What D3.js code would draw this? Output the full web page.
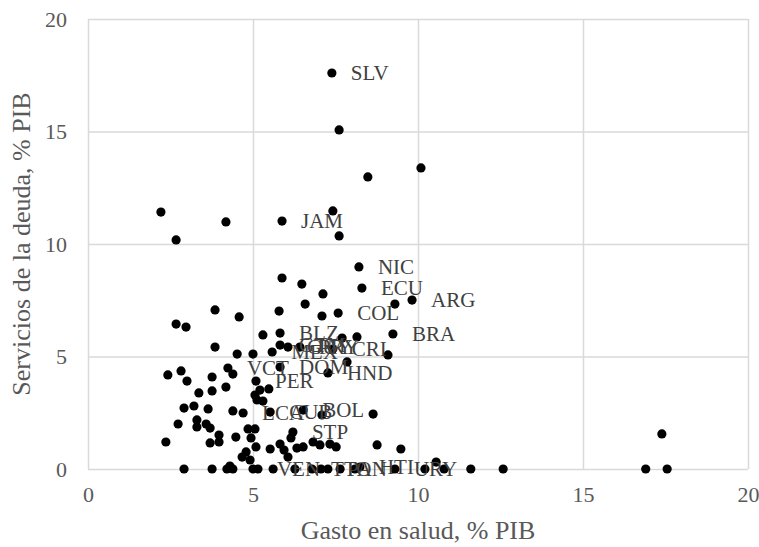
<!DOCTYPE html>
<html>
<head>
<meta charset="utf-8">
<script src="https://cdn.jsdelivr.net/npm/d3@7"></script>
<style>
  html, body { margin: 0; padding: 0; background: #fff; }
  svg { display: block; }
</style>
</head>
<body>
<div id="chart"></div>
<script>
// Data: health expenditure (% GDP) vs debt service (% GDP)
const gastoSalud = [
  7.39, 7.61, 10.09, 8.48, 7.42, 2.21, 4.18, 5.88, 2.67, 7.61,
  5.88, 6.48, 8.21, 7.12, 6.58, 9.30, 9.82, 8.30, 7.58, 7.09,
  5.79, 4.58, 3.85, 2.67, 2.97, 5.30, 5.82, 9.24, 7.70, 8.15,
  9.09, 7.85, 7.27, 7.42, 6.42, 5.58, 5.82, 6.06, 5.82, 3.85,
  4.52, 5.00, 2.42, 2.82, 3.00, 3.76, 4.24, 4.39, 3.36, 3.76,
  4.18, 5.09, 5.21, 5.48, 5.06, 5.12, 5.30, 2.91, 3.21, 3.64,
  4.39, 4.70, 5.52, 6.52, 7.09, 8.64, 2.73, 3.30, 3.30, 3.58,
  3.70, 3.97, 2.36, 3.70, 3.97, 4.48, 4.85, 5.06, 4.94, 5.09,
  4.79, 4.67, 4.91, 5.52, 5.82, 5.94, 6.06, 6.21, 6.15, 6.33,
  6.52, 6.82, 7.03, 7.33, 7.52, 8.76, 9.48, 17.39,
  2.91, 3.76, 4.21, 4.30, 4.39, 5.00, 5.15, 5.61, 6.27, 6.79,
  7.06, 7.27, 7.64, 8.09, 8.24, 9.30, 10.21, 10.55, 10.79, 11.60,
  12.58, 16.90, 17.55
];
const servicioDeuda = [
  17.60, 15.07, 13.38, 12.98, 11.47, 11.42, 10.98, 11.02, 10.18, 10.36,
  8.49, 8.22, 8.98, 7.78, 7.33, 7.33, 7.51, 8.04, 6.93, 6.80,
  7.02, 6.76, 7.07, 6.44, 6.31, 5.96, 6.04, 6.00, 5.82, 5.87,
  5.07, 4.76, 4.27, 5.33, 5.42, 5.20, 5.51, 5.42, 4.53, 5.42,
  5.11, 5.11, 4.18, 4.36, 3.91, 4.09, 4.49, 4.22, 3.38, 3.47,
  3.64, 3.91, 3.51, 3.56, 3.29, 3.07, 3.02, 2.71, 2.80, 2.67,
  2.58, 2.49, 2.53, 2.62, 2.40, 2.44, 2.00, 2.18, 1.87, 2.00,
  1.82, 1.51, 1.20, 1.16, 1.20, 1.42, 1.78, 1.78, 1.38, 0.98,
  0.76, 0.53, 0.40, 0.89, 1.11, 0.84, 0.53, 1.64, 1.38, 0.93,
  0.98, 1.20, 1.07, 1.11, 0.98, 1.07, 0.89, 1.56,
  0, 0, 0, 0.13, 0, 0, 0, 0, 0, 0,
  0, 0, 0, 0, 0.09, 0, 0, 0.31, 0, 0,
  0, 0, 0
];
const paises = [
  "SLV", "", "", "", "", "", "", "JAM", "", "",
  "", "", "NIC", "", "", "", "ARG", "ECU", "COL", "",
  "", "", "", "", "", "", "BLZ", "BRA", "", "",
  "", "", "HND", "CRI", "PRY", "MEX", "GTM", "GUY", "DOM", "",
  "", "", "", "", "", "", "VCT", "", "", "",
  "", "PER", "", "", "", "", "", "", "", "",
  "", "LCA", "CUB", "BOL", "", "", "", "", "", "",
  "", "", "", "", "", "", "", "", "", "",
  "", "", "", "", "", "", "", "STP", "", "",
  "", "", "", "", "", "", "", "",
  "", "", "", "", "", "", "VEN", "", "", "TTO",
  "", "PAN", "", "", "HTI", "URY", "", "", "", "",
  "", "", ""
];
const xTicks = [0, 5, 10, 15, 20];
const yTicks = [0, 5, 10, 15, 20];
const xTitle = "Gasto en salud, % PIB";
const yTitle = "Servicios de la deuda, % PIB";

const W = 759, H = 547;
const margin = { left: 88, right: 11, top: 19, bottom: 78 };
const iw = W - margin.left - margin.right;
const ih = H - margin.top - margin.bottom;

const svg = d3.select("#chart").append("svg")
  .attr("width", W).attr("height", H);

const g = svg.append("g").attr("transform", `translate(${margin.left},${margin.top})`);

const x = d3.scaleLinear().domain([0, 20]).range([0, iw]);
const y = d3.scaleLinear().domain([0, 20]).range([ih, 0]);

const font = "'Liberation Serif', 'Times New Roman', serif";

// Gridlines via axes
const gx = g.append("g").attr("transform", `translate(0,${ih})`)
  .call(d3.axisBottom(x).tickValues(xTicks).tickSize(-ih).tickFormat(d3.format("d")).tickPadding(17));
const gy = g.append("g")
  .call(d3.axisLeft(y).tickValues(yTicks).tickSize(-iw).tickFormat(d3.format("d")).tickPadding(21));

[gx, gy].forEach(a => {
  a.select(".domain").remove();
  a.selectAll(".tick line").attr("stroke", "#d9d9d9").attr("stroke-width", 1.5);
  a.selectAll(".tick text")
    .attr("fill", "#595959")
    .style("font-family", font)
    .style("font-size", "22px");
});

// Data
const data = gastoSalud.map((v, i) => ({ x: v, y: servicioDeuda[i], label: paises[i] }));

g.append("g").selectAll("circle").data(data).join("circle")
  .attr("cx", d => x(d.x))
  .attr("cy", d => y(d.y))
  .attr("r", 4.6)
  .attr("fill", "#000");

g.append("g").selectAll("text").data(data.filter(d => d.label)).join("text")
  .attr("x", d => x(d.x) + 19)
  .attr("y", d => y(d.y))
  .attr("dy", "0.35em")
  .attr("fill", "#404040")
  .style("font-family", font)
  .style("font-size", "21px")
  .text(d => d.label);

// Axis titles
svg.append("text")
  .attr("x", margin.left + iw / 2)
  .attr("y", 539)
  .attr("text-anchor", "middle")
  .attr("fill", "#595959")
  .style("font-family", font)
  .style("font-size", "26px")
  .text(xTitle);

svg.append("text")
  .attr("transform", `translate(30,${margin.top + ih / 2}) rotate(-90)`)
  .attr("text-anchor", "middle")
  .attr("fill", "#595959")
  .style("font-family", font)
  .style("font-size", "26px")
  .text(yTitle);
</script>
</body>
</html>
